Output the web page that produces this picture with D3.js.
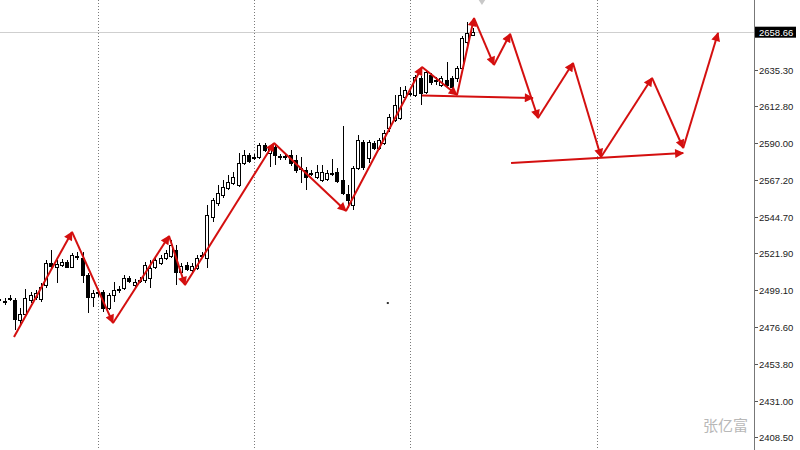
<!DOCTYPE html>
<html><head><meta charset="utf-8">
<script src="https://cdn.jsdelivr.net/npm/d3@7/dist/d3.min.js"></script>
<style>html,body{margin:0;padding:0;background:#fff;}svg{display:block;}</style>
</head><body>
<svg id="c" width="800" height="450"></svg>
<script>
// candles: [open, high, low, close], one per bar index starting at 0
const candles = [
[2493.2,2495.0,2491.3,2493.8],[2491.9,2494.4,2490.0,2492.5],[2493.8,2496.2,2492.5,2494.4],[2493.2,2494.4,2474.6,2481.4],
[2480.8,2488.2,2477.7,2484.7],[2484.7,2500.0,2483.5,2494.4],[2493.2,2498.1,2491.3,2496.2],[2495.0,2499.3,2493.2,2497.5],
[2493.8,2503.7,2491.9,2501.2],[2502.4,2517.9,2500.6,2516.0],[2516.0,2524.1,2512.9,2514.2],[2513.6,2517.9,2503.7,2515.4],
[2514.8,2518.5,2513.6,2516.6],[2516.6,2517.9,2512.9,2513.6],[2513.6,2522.2,2512.9,2521.0],[2519.7,2522.8,2517.9,2520.4],
[2519.1,2522.8,2503.7,2508.6],[2508.6,2509.9,2485.1,2495.0],[2495.0,2499.3,2488.8,2497.5],[2497.5,2499.3,2495.0,2498.1],
[2498.1,2499.3,2485.7,2488.2],[2488.2,2497.5,2487.0,2496.2],[2496.2,2504.3,2491.9,2499.3],[2499.3,2501.8,2497.5,2500.0],
[2500.6,2508.6,2499.3,2506.8],[2506.8,2508.0,2503.7,2504.9],[2502.4,2506.1,2501.2,2504.3],[2504.9,2507.4,2503.7,2505.5],
[2505.5,2516.6,2503.7,2514.8],[2506.8,2517.9,2500.6,2512.9],[2513.6,2519.7,2512.3,2517.9],[2516.0,2521.0,2514.8,2519.1],
[2519.1,2524.1,2517.9,2522.2],[2520.4,2530.2,2519.1,2527.2],[2524.1,2527.2,2502.4,2510.5],[2510.5,2516.0,2508.6,2514.2],
[2514.8,2516.6,2511.1,2512.3],[2511.7,2516.0,2510.5,2514.2],[2512.9,2521.0,2511.7,2519.1],[2520.4,2522.8,2519.1,2521.0],
[2519.1,2551.9,2512.9,2545.7],[2544.5,2556.2,2541.4,2555.0],[2553.1,2564.2,2551.3,2559.3],[2558.1,2567.3,2556.2,2563.0],
[2562.4,2570.4,2561.1,2566.1],[2565.5,2572.3,2564.2,2569.2],[2564.2,2584.0,2563.0,2577.8],[2577.8,2585.9,2576.6,2582.8],
[2582.8,2584.0,2577.8,2579.1],[2580.9,2583.4,2579.7,2581.5],[2581.5,2590.2,2580.3,2589.0],[2589.0,2590.2,2584.6,2585.9],
[2584.0,2589.0,2575.4,2587.7],[2587.7,2589.0,2576.6,2582.8],[2582.2,2583.4,2579.7,2581.5],[2581.5,2583.4,2579.7,2582.2],
[2582.8,2585.9,2576.0,2577.8],[2579.7,2582.8,2571.6,2573.5],[2574.7,2581.5,2565.5,2574.1],[2573.5,2575.4,2561.1,2569.2],
[2571.0,2573.5,2569.8,2571.6],[2569.2,2576.6,2568.0,2572.3],[2567.3,2576.6,2566.1,2572.3],[2568.0,2573.5,2566.7,2571.6],
[2571.0,2580.3,2569.8,2571.6],[2572.3,2574.7,2565.5,2566.7],[2567.3,2600.7,2558.1,2559.3],[2558.7,2564.2,2550.0,2555.0],
[2551.9,2576.0,2548.8,2574.7],[2574.7,2595.1,2573.5,2592.0],[2590.8,2592.0,2573.5,2575.4],[2580.9,2592.0,2577.8,2590.8],
[2590.2,2591.4,2585.9,2587.1],[2587.1,2593.3,2585.9,2592.0],[2590.2,2598.2,2589.0,2596.4],[2599.5,2608.1,2597.0,2606.3],
[2604.4,2619.9,2603.2,2613.7],[2605.6,2624.8,2604.4,2619.9],[2618.6,2625.4,2616.8,2622.9],[2620.5,2624.2,2619.2,2621.1],
[2619.9,2632.2,2618.6,2631.0],[2630.4,2631.6,2613.7,2621.1],[2621.7,2635.3,2620.5,2634.1],[2632.2,2633.5,2626.0,2627.9],
[2629.1,2631.0,2626.0,2628.5],[2626.0,2631.6,2624.8,2630.4],[2629.1,2640.2,2624.2,2626.0],[2630.4,2631.6,2622.9,2624.8],
[2630.4,2637.8,2627.9,2636.5],[2636.5,2656.3,2635.3,2655.1],[2652.6,2665.0,2650.8,2658.2],[2656.9,2661.3,2656.3,2658.66]
];
const tickValues = [2635.30,2612.80,2590.00,2567.20,2544.70,2521.90,2499.10,2476.60,2453.80,2431.00,2408.50];
const tickLabels = ["2635.30","2612.80","2590.00","2567.20","2544.70","2521.90","2499.10","2476.60","2453.80","2431.00","2408.50"];
const currentPrice = 2658.66;
const currentLabel = "2658.66";
const gridBars = [19, 49, 79, 115];
// zigzag arrow path: [bar index, price]
const zigzag = [
[2.81,2470.3],[13.96,2535.2],[21.85,2478.9],[32.62,2532.7],[35.69,2502.4],[52.81,2590.2],
[66.65,2548.2],[81.27,2637.2],[88.0,2619.9],[91.27,2667.4],[95.1,2638.4],[98.2,2657.6],
[103.58,2605.6],[110.3,2639.6],[115.7,2581.5],[125.5,2630.4],[131.5,2587.1],[138.2,2658.2]
];
const levelArrows = [
[[81.27,2619.6],[102.6,2618.0]],
[[98.4,2577.8],[131.5,2584.0]]
];
const dotMarks = [[74.5,2491.9]];
const topMarker = [92.8, 2678.0];
const watermark = "张亿富";

const svg = d3.select("#c");
const W = 800, H = 450, axisX = 754;
const x = d3.scaleLinear().domain([0.1154, 145.115]).range([0, axisX]);
const y = d3.scaleLinear().domain([2400.44, 2678.56]).range([H, 0]);
const red = "#d40f0f";

const defs = svg.append("defs");
defs.append("marker").attr("id","ah").attr("markerUnits","userSpaceOnUse")
  .attr("viewBox","0 0 10 10").attr("refX",9).attr("refY",5)
  .attr("markerWidth",10).attr("markerHeight",9).attr("orient","auto")
  .append("path").attr("d","M0,0 L10,5 L0,10 Z").attr("fill",red);

// vertical dotted grid
svg.append("g").selectAll("line").data(gridBars).join("line")
  .attr("x1",d=>Math.round(x(d))+0.5).attr("x2",d=>Math.round(x(d))+0.5)
  .attr("y1",0).attr("y2",H).attr("stroke","#7a7a7a").attr("stroke-width",1)
  .attr("stroke-dasharray","1,2");

// current price line
svg.append("line").attr("x1",0).attr("x2",axisX)
  .attr("y1",Math.round(y(currentPrice))+0.5).attr("y2",Math.round(y(currentPrice))+0.5)
  .attr("stroke","#cfcfcf").attr("stroke-width",1);

// candles
const cg = svg.append("g").attr("shape-rendering","crispEdges");
candles.forEach((c,i)=>{
  const [o,h,l,cl] = c;
  const cx = Math.round(x(i));
  cg.append("line").attr("x1",cx+0.5).attr("x2",cx+0.5)
    .attr("y1",y(h)).attr("y2",y(l)).attr("stroke","#000").attr("stroke-width",1);
  const top = y(Math.max(o,cl)), bot = y(Math.min(o,cl));
  const bull = cl >= o;
  cg.append("rect").attr("x",cx-1.5).attr("width",3)
    .attr("y",Math.round(top)+0.5).attr("height",Math.max(0,Math.round(bot)-Math.round(top)))
    .attr("fill",bull?"#fff":"#000").attr("stroke","#000").attr("stroke-width",1);
});

// dot marks
svg.append("g").selectAll("rect").data(dotMarks).join("rect")
  .attr("x",d=>x(d[0])).attr("y",d=>y(d[1])).attr("width",2).attr("height",2).attr("fill","#333");

// top marker (gray)
{
  const mx = x(topMarker[0]), my = y(topMarker[1]);
  svg.append("path").attr("d",`M${mx-6},${my-5} L${mx+6},${my-5} L${mx},${my+4} Z`).attr("fill","#c8c8c8");
}

// zigzag arrows
const ag = svg.append("g");
for (let k=0;k<zigzag.length-1;k++){
  const a = zigzag[k], b = zigzag[k+1];
  ag.append("line").attr("x1",x(a[0])).attr("y1",y(a[1])).attr("x2",x(b[0])).attr("y2",y(b[1]))
    .attr("stroke",red).attr("stroke-width",2).attr("marker-end","url(#ah)");
}
levelArrows.forEach(s=>{
  ag.append("line").attr("x1",x(s[0][0])).attr("y1",y(s[0][1])).attr("x2",x(s[1][0])).attr("y2",y(s[1][1]))
    .attr("stroke",red).attr("stroke-width",2).attr("marker-end","url(#ah)");
});

// axis
svg.append("line").attr("x1",axisX+0.5).attr("x2",axisX+0.5).attr("y1",0).attr("y2",H)
  .attr("stroke","#777").attr("stroke-width",1);
const ax = svg.append("g");
tickValues.forEach((v,k)=>{
  const ty = Math.round(y(v))+0.5;
  ax.append("line").attr("x1",axisX+1).attr("x2",axisX+4).attr("y1",ty).attr("y2",ty).attr("stroke","#555");
  ax.append("text").attr("x",759).attr("y",ty).attr("dy","0.35em")
    .attr("font-family","Liberation Sans, Arial, sans-serif").attr("font-size","9.5px").attr("fill","#222")
    .text(tickLabels[k]);
});
{
  const ty = y(currentPrice);
  ax.append("rect").attr("x",755).attr("y",ty-5.5).attr("width",41).attr("height",11).attr("fill","#000");
  ax.append("text").attr("x",759).attr("y",ty).attr("dy","0.35em")
    .attr("font-family","Liberation Sans, Arial, sans-serif").attr("font-size","9.5px").attr("fill","#fff")
    .text(currentLabel);
}

// watermark
svg.append("text").attr("x",748).attr("y",431).attr("text-anchor","end")
  .attr("font-family","Noto Sans CJK SC, sans-serif").attr("font-size","15px").attr("fill","#b8b8b8")
  .text(watermark);
</script>
</body></html>
